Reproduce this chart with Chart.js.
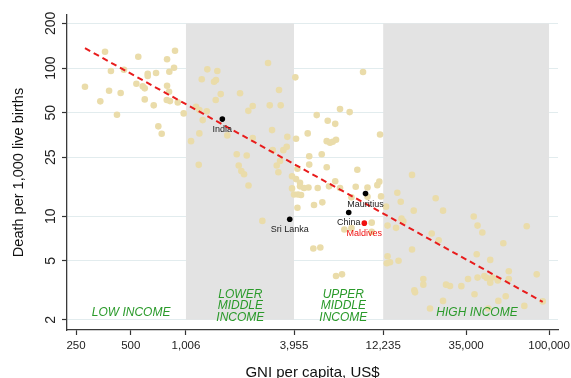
<!DOCTYPE html>
<html>
<head>
<meta charset="utf-8">
<script src="https://cdn.jsdelivr.net/npm/chart.js@4.4.0/dist/chart.umd.min.js"></script>
<style>
    html, body { margin: 0; padding: 0; background: #fff; }
</style>
</head>
<body>
<canvas id="chart" width="571" height="378"></canvas>
<script>
// GNI per capita (US$) of each country
const gni = [
    280, 340, 361, 380, 389, 420, 440, 459, 537, 550,
    582, 597, 597, 620, 620, 669, 689, 709, 740, 789,
    792, 792, 812, 815, 822, 865, 876, 907, 978, 1073,
    1143, 1183, 1192, 1192, 1229, 1244, 1309, 1319, 1436, 1472,
    1467, 1497, 1563, 1699, 1914, 1963, 1996, 2029, 2100, 2172,
    2217, 2222, 2344, 2344, 2648, 2846, 2908, 2994, 3020, 3177,
    3243, 3270, 3313, 3341, 3454, 3606, 3633, 3856, 3856, 4129,
    4057, 4267, 3955, 4161, 4322, 4267, 4129, 4021, 4057, 4490,
    4704, 4750, 4794, 4794, 5050, 5094, 5272, 5340, 5518, 5617,
    5660, 5984, 5984, 6060, 6160, 6240, 6457, 6664, 6664, 6733,
    6733, 7081, 7081, 7263, 7479, 8000, 8183, 8183, 8640, 8817,
    9478, 10030, 10030, 10580, 10580, 11360, 11650, 11760, 11910, 12690,
    12930, 12930, 12800, 13340, 14400, 14630, 14860, 15280, 15430, 15790,
    17630, 17630, 18010, 18150, 18310, 20340, 20340, 22140, 22620, 23790,
    24720, 26110, 26110, 27120, 28530, 32920, 35830, 38510, 38900, 40000,
    40420, 40420, 42950, 44050, 45410, 46340, 47460, 47460, 48750, 52200,
    52600, 56030, 57760, 60060, 60060, 73100, 75360, 85530, 92300
];
// deaths per 1,000 live births, same order
const deaths = [
    74.7, 59.6, 128.9, 70.3, 95.4, 48.4, 67.8, 97.4, 78.3, 119.2,
    75.2, 72.9, 61.4, 91.5, 88.3, 56.0, 92.5, 40.4, 36.0, 60.8,
    114.5, 75.9, 69.2, 94.4, 59.8, 100.5, 130.9, 58.6, 49.4, 32.1,
    54.8, 22.2, 52.0, 36.2, 83.9, 44.5, 51.0, 98.0, 80.8, 82.9,
    60.8, 95.4, 66.7, 35.1, 26.2, 22.0, 67.5, 20.2, 19.2, 25.7,
    51.4, 16.1, 55.4, 33.7, 9.29, 108.1, 56.0, 38.1, 27.9, 22.0,
    19.8, 71.0, 23.6, 56.0, 27.9, 29.4, 34.3, 18.6, 15.4, 20.9,
    17.8, 16.8, 14.0, 14.0, 13.9, 15.9, 11.4, 86.5, 33.3, 15.5,
    36.2, 15.6, 25.4, 22.3, 6.05, 11.9, 48.1, 15.5, 6.14, 26.2,
    12.4, 32.1, 21.4, 44.1, 15.9, 31.3, 31.8, 17.2, 42.0, 32.8,
    3.95, 52.8, 15.5, 4.05, 8.13, 50.4, 8.30, 13.4, 15.8, 20.6,
    94.0, 13.5, 15.6, 9.04, 7.83, 16.2, 17.1, 35.6, 13.6, 11.6,
    8.64, 5.37, 4.81, 4.89, 8.34, 14.4, 5.00, 12.5, 9.62, 9.25,
    19.0, 5.96, 10.9, 3.16, 3.06, 3.77, 3.45, 2.38, 7.64, 13.2,
    6.88, 10.9, 2.68, 3.45, 3.38, 3.37, 3.77, 9.95, 2.97, 5.53,
    8.64, 3.85, 7.76, 3.95, 3.83, 2.38, 5.07, 3.56, 3.85, 3.68,
    2.68, 6.57, 2.88, 3.77, 4.25, 2.48, 8.56, 4.05, 2.66
];

// labelled countries
const hiNames = ['India', 'Sri Lanka', 'China', 'Mauritius', 'Maldives'];
const hiGni = [1595, 3746, 7907, 9781, 9634];
const hiDeaths = [45.2, 9.54, 10.6, 14.2, 8.97];
const hiColors = ['#000', '#000', '#000', '#000', '#f01010'];
const hiTextColors = ['#222', '#222', '#222', '#222', '#f01010'];

// fitted line ends
const fitGni = [280, 92300];
const fitDeaths = [136, 2.64];

// income bands (shaded ones)
const bandFrom = [1006, 12235];
const bandTo = [3955, 100000];
const bandLow = 2;
const bandHigh = 200;

const groupNames = [['LOW INCOME'], ['LOWER', 'MIDDLE', 'INCOME'], ['UPPER', 'MIDDLE', 'INCOME'], ['HIGH INCOME']];
const groupGni = [502, 2003, 7385, 40150];
const groupDeaths = [2.22, 2.08, 2.08, 2.22];

const xTicks = [250, 500, 1006, 3955, 12235, 35000, 100000];
const yTicks = [2, 5, 10, 25, 50, 100, 200];

const fmt = v => Number(v).toLocaleString('en-US');

const bands = {
    id: 'bands',
    beforeDatasetsDraw(chart) {
        const {ctx, scales: {x, y}} = chart;
        ctx.save();
        ctx.fillStyle = '#e3e3e3';
        const top = y.getPixelForValue(bandHigh);
        const bottom = y.getPixelForValue(bandLow);
        for (let i = 0; i < bandFrom.length; i++) {
            const x0 = x.getPixelForValue(bandFrom[i]);
            const x1 = x.getPixelForValue(bandTo[i]);
            ctx.fillRect(x0, top, x1 - x0, bottom - top);
        }
        ctx.restore();
    },
    afterDatasetsDraw(chart) {
        const {ctx, scales: {x, y}} = chart;
        ctx.save();
        ctx.textAlign = 'center';
        ctx.textBaseline = 'middle';

        // income group names
        ctx.font = 'italic 12px "Liberation Sans", Arial, sans-serif';
        ctx.fillStyle = '#2a9a2a';
        for (let i = 0; i < groupNames.length; i++) {
            const px = x.getPixelForValue(groupGni[i]);
            const py = y.getPixelForValue(groupDeaths[i]);
            const lines = groupNames[i];
            lines.forEach((t, k) => {
                ctx.fillText(t, px, py - (lines.length - 1 - k) * 11.4);
            });
        }

        // country names under their points
        ctx.font = '9px "Liberation Sans", Arial, sans-serif';
        const meta = chart.getDatasetMeta(2);
        meta.data.forEach((pt, i) => {
            ctx.fillStyle = hiTextColors[i];
            ctx.fillText(hiNames[i], pt.x, pt.y + 10.5);
        });
        ctx.restore();
    }
};

const config = {
    type: 'scatter',
    data: {
        datasets: [{
            label: 'countries',
            data: gni.map((g, i) => ({x: g, y: deaths[i]})),
            backgroundColor: 'rgb(234,220,170)',
            borderWidth: 0,
            pointRadius: 3.3,
            order: 3
        }, {
            label: 'fit',
            type: 'line',
            data: fitGni.map((g, i) => ({x: g, y: fitDeaths[i]})),
            borderColor: 'rgb(232,28,28)',
            borderWidth: 2,
            borderDash: [6, 4],
            pointRadius: 0,
            fill: false,
            order: 2
        }, {
            label: 'labelled',
            data: hiGni.map((g, i) => ({x: g, y: hiDeaths[i]})),
            backgroundColor: hiColors,
            borderWidth: 0,
            pointRadius: 2.8,
            order: 1
        }]
    },
    options: {
        responsive: false,
        animation: false,
        devicePixelRatio: 1,
        layout: {padding: {left: 0, right: 13, top: 15, bottom: 0}},
        plugins: {legend: {display: false}, tooltip: {enabled: false}},
        scales: {
            x: {
                type: 'logarithmic',
                min: 223,
                max: 112000,
                afterBuildTicks: s => { s.ticks = xTicks.map(v => ({value: v})); },
                afterFit: s => { s.height = 48; s.paddingLeft = 0; s.paddingRight = 0; },
                grid: {drawOnChartArea: false, drawTicks: true, tickLength: 5, tickColor: '#333', tickWidth: 1.2},
                border: {display: true, color: '#3a3a3a', width: 1.3},
                ticks: {
                    autoSkip: false,
                    maxRotation: 0,
                    padding: 3.5,
                    color: '#222',
                    font: {family: '"Liberation Sans", Arial, sans-serif', size: 11.5},
                    callback: v => fmt(v)
                },
                title: {
                    display: true,
                    text: 'GNI per capita, US$',
                    color: '#111',
                    font: {family: '"Liberation Sans", Arial, sans-serif', size: 15, lineHeight: 1},
                    padding: {top: 0, bottom: -2}
                }
            },
            y: {
                type: 'logarithmic',
                min: 1.705,
                max: 228,
                afterBuildTicks: s => { s.ticks = yTicks.map(v => ({value: v})); },
                afterFit: s => { s.width = 67; s.paddingTop = 0; s.paddingBottom = 0; },
                grid: {color: 'rgb(226,236,238)', lineWidth: 1, drawTicks: true, tickLength: 5, tickColor: '#333', tickWidth: 1.2},
                border: {display: true, color: '#3a3a3a', width: 1.3},
                ticks: {
                    autoSkip: false,
                    minRotation: 90,
                    maxRotation: 90,
                    crossAlign: 'center',
                    padding: -1,
                    color: '#222',
                    font: {family: '"Liberation Sans", Arial, sans-serif', size: 14},
                    callback: v => fmt(v)
                },
                title: {
                    display: true,
                    text: 'Death per 1,000 live births',
                    color: '#111',
                    font: {family: '"Liberation Sans", Arial, sans-serif', size: 14.5, lineHeight: 1.2},
                    padding: {top: 10, bottom: 0}
                }
            }
        }
    },
    plugins: [bands]
};

new Chart(document.getElementById('chart'), config);
</script>
</body>
</html>
